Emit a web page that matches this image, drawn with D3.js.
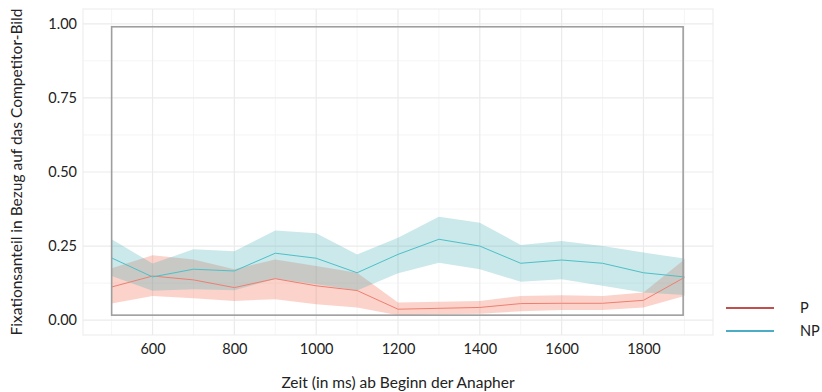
<!DOCTYPE html>
<html>
<head>
<meta charset="utf-8">
<script src="https://cdn.jsdelivr.net/npm/d3@7"></script>
<style>
  body { margin: 0; background: #fff; }
  svg text { font-family: "Lato", "DejaVu Sans", sans-serif; fill: #222; }
</style>
</head>
<body>
<div id="wrapper"></div>
<script>
// ---------- DATA -----------------------------------------------
const time = [500, 600, 700, 800, 900, 1000, 1100, 1200, 1300, 1400, 1500, 1600, 1700, 1800, 1900];

const pMean  = [0.112, 0.149, 0.136, 0.110, 0.140, 0.116, 0.100, 0.037, 0.040, 0.043, 0.056, 0.057, 0.057, 0.067, 0.144];
const pLower = [0.056, 0.082, 0.074, 0.065, 0.071, 0.054, 0.043, 0.017, 0.020, 0.022, 0.030, 0.034, 0.034, 0.043, 0.082];
const pUpper = [0.175, 0.219, 0.205, 0.172, 0.205, 0.183, 0.160, 0.060, 0.062, 0.065, 0.082, 0.084, 0.082, 0.093, 0.205];

const npMean  = [0.210, 0.146, 0.172, 0.166, 0.226, 0.209, 0.160, 0.222, 0.273, 0.250, 0.192, 0.203, 0.192, 0.160, 0.146];
const npLower = [0.149, 0.099, 0.104, 0.101, 0.140, 0.121, 0.100, 0.158, 0.194, 0.172, 0.130, 0.138, 0.116, 0.093, 0.085];
const npUpper = [0.273, 0.191, 0.239, 0.233, 0.303, 0.293, 0.222, 0.278, 0.349, 0.329, 0.254, 0.267, 0.250, 0.228, 0.208];

const xTicks = [600, 800, 1000, 1200, 1400, 1600, 1800];
const xMinor = [500, 700, 900, 1100, 1300, 1500, 1700, 1900];
const yTicks = [0, 0.25, 0.5, 0.75, 1];
const yMinor = [0.125, 0.375, 0.625, 0.875];

// grey frame drawn inside the panel
const frameX = [500, 1897];
const frameY = [0.017, 0.99];

const groups = ["P", "NP"];

// ---------- DIMENSIONS ----------------------------------------
const dimensions = {
  width: 822,
  height: 392,
  margin: { top: 9, right: 109, bottom: 57, left: 83 },
};
dimensions.boundedWidth = dimensions.width - dimensions.margin.left - dimensions.margin.right;
dimensions.boundedHeight = dimensions.height - dimensions.margin.top - dimensions.margin.bottom;

const svg = d3.select("#wrapper")
  .append("svg")
  .attr("width", dimensions.width)
  .attr("height", dimensions.height);

const bounds = svg.append("g")
  .attr("transform", `translate(${dimensions.margin.left},${dimensions.margin.top})`);

// ---------- SCALES ----------------------------------------
const xScale = d3.scaleLinear()
  .domain([430, 1970])
  .range([0, dimensions.boundedWidth]);

const yScale = d3.scaleLinear()
  .domain([-0.05, 1.05])
  .range([dimensions.boundedHeight, 0]);

// ---------- PANEL + GRID ----------------------------------------
bounds.append("rect")
  .attr("width", dimensions.boundedWidth)
  .attr("height", dimensions.boundedHeight)
  .attr("fill", "#fff");

const grid = bounds.append("g");
grid.selectAll(".minor-x").data(xMinor).join("line")
  .attr("x1", d => xScale(d)).attr("x2", d => xScale(d))
  .attr("y1", 0).attr("y2", dimensions.boundedHeight)
  .attr("stroke", "#f5f5f5").attr("stroke-width", 1);
grid.selectAll(".minor-y").data(yMinor).join("line")
  .attr("y1", d => yScale(d)).attr("y2", d => yScale(d))
  .attr("x1", 0).attr("x2", dimensions.boundedWidth)
  .attr("stroke", "#f5f5f5").attr("stroke-width", 1);
grid.selectAll(".major-x").data(xTicks).join("line")
  .attr("x1", d => xScale(d)).attr("x2", d => xScale(d))
  .attr("y1", 0).attr("y2", dimensions.boundedHeight)
  .attr("stroke", "#ebebeb").attr("stroke-width", 1.2);
grid.selectAll(".major-y").data(yTicks).join("line")
  .attr("y1", d => yScale(d)).attr("y2", d => yScale(d))
  .attr("x1", 0).attr("x2", dimensions.boundedWidth)
  .attr("stroke", "#ebebeb").attr("stroke-width", 1.2);

// ---------- RIBBONS + LINES ----------------------------------------
const series = [
  { key: "P", mean: pMean, lo: pLower, hi: pUpper, fill: "#f26c52", line: "#ee7f70" },
  { key: "NP", mean: npMean, lo: npLower, hi: npUpper, fill: "#52b2b9", line: "#4cc0c8" },
];

const area = d3.area()
  .x((d, i) => xScale(time[i]))
  .y0(d => yScale(d[0]))
  .y1(d => yScale(d[1]));

const line = d3.line()
  .x((d, i) => xScale(time[i]))
  .y(d => yScale(d));

// P ribbon first, NP on top (overlap turns grey)
series.forEach(s => {
  bounds.append("path")
    .datum(s.lo.map((v, i) => [v, s.hi[i]]))
    .attr("d", area)
    .attr("fill", s.fill)
    .attr("fill-opacity", 0.3);
});
series.forEach(s => {
  bounds.append("path")
    .datum(s.mean)
    .attr("d", line)
    .attr("fill", "none")
    .attr("stroke", s.line)
    .attr("stroke-width", 1);
});

// grey frame
bounds.append("rect")
  .attr("x", xScale(frameX[0]))
  .attr("y", yScale(frameY[1]))
  .attr("width", xScale(frameX[1]) - xScale(frameX[0]))
  .attr("height", yScale(frameY[0]) - yScale(frameY[1]))
  .attr("fill", "none")
  .attr("stroke", "#9e9e9e")
  .attr("stroke-width", 1.6);

// panel border
bounds.append("rect")
  .attr("width", dimensions.boundedWidth)
  .attr("height", dimensions.boundedHeight)
  .attr("fill", "none")
  .attr("stroke", "#ebebeb")
  .attr("stroke-width", 1);

// ---------- AXES ----------------------------------------
const xAxis = bounds.append("g")
  .attr("transform", `translate(0,${dimensions.boundedHeight})`)
  .call(d3.axisBottom(xScale).tickValues(xTicks).tickSize(0).tickPadding(8.5).tickFormat(d3.format("d")));
xAxis.select(".domain").remove();
xAxis.selectAll("text").attr("font-size", 14.5).style("fill", "#222");

const yAxis = bounds.append("g")
  .call(d3.axisLeft(yScale).tickValues(yTicks).tickSize(0).tickPadding(6).tickFormat(d3.format(".2f")));
yAxis.select(".domain").remove();
yAxis.selectAll("text").attr("font-size", 14.5).style("fill", "#222");

svg.append("text")
  .attr("x", dimensions.margin.left + xScale(1200))
  .attr("y", 388)
  .attr("text-anchor", "middle")
  .attr("font-size", 15.5)
  .text("Zeit (in ms) ab Beginn der Anapher");

svg.append("text")
  .attr("transform", `translate(22,${dimensions.margin.top + dimensions.boundedHeight / 2}) rotate(-90)`)
  .attr("text-anchor", "middle")
  .attr("font-size", 15.5)
  .text("Fixationsanteil in Bezug auf das Competitor-Bild");

// ---------- LEGEND ----------------------------------------
const legendColors = ["#c0504d", "#4bacc6"];
const legend = svg.append("g").attr("transform", "translate(726,308)");
groups.forEach((g, i) => {
  legend.append("line")
    .attr("x1", 0).attr("x2", 48)
    .attr("y1", i * 23).attr("y2", i * 23)
    .attr("stroke", legendColors[i])
    .attr("stroke-width", 2);
  legend.append("text")
    .attr("x", 74)
    .attr("y", i * 23 + 5)
    .attr("font-size", 14.5)
    .text(g);
});
</script>
</body>
</html>
